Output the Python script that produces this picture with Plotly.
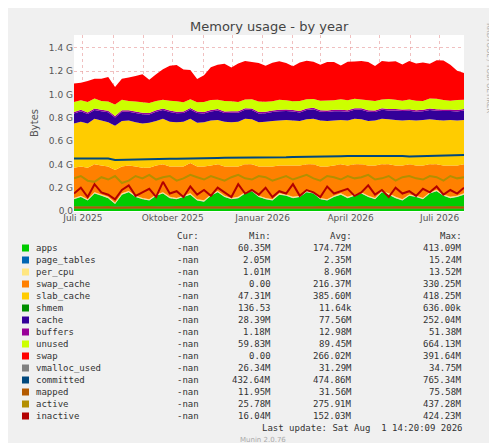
import plotly.graph_objects as go
import pandas as pd

M = 1e6
apps = [100,120,90,150,130,110,60,140,160,120, 100,90,130,150,110,100,120,140,90,80,
        130,160,120,100,110,150,170,120,100,90, 140,130,110,120,160,150,100,90,120,140,
        110,130,150,120,100,160,140,110,90,130, 120,100,150,170,130,110,120,140]
page_tables = [2.3]*58
per_cpu = [9]*58
swap_cache = [260,250,270,240,250,260,280,230,220,250, 260,270,250,240,260,270,250,260,280,290,
              250,230,250,270,260,240,220,250,270,280, 240,250,270,260,230,240,270,280,260,250,
              270,260,240,260,280,230,250,270,290,260, 260,280,240,220,250,270,260,250]
slab_cache = [380,385,380,390,385,380,380,390,385,380, 380,385,380,390,385,380,385,380,375,380,
              385,380,385,380,385,390,385,380,385,390, 385,390,385,380,385,390,395,390,385,380,
              385,390,385,380,385,390,385,390,385,380, 385,390,385,380,385,390,385,380]
shmem = [0.01]*58
cache = [85,90,80,75,80,85,70,80,75,80, 78,72,80,76,82,78,74,80,84,76,
         78,80,74,82,76,78,80,76,72,78, 80,76,78,74,80,82,76,78,80,74,
         76,78,82,80,74,78,76,80,82,78, 76,74,80,78,82,76,78,80]
buffers = [13]*58
unused = [85,80,90,85,75,80,100,90,80,85, 90,85,80,75,85,90,80,75,80,85,
          85,80,90,85,80,75,80,90,85,80, 85,80,75,85,80,75,80,85,80,90,
          85,80,75,85,80,75,85,80,75,85, 80,75,85,90,80,75,85,80]
swap = [160,150,180,170,190,210,150,180,200,220, 240,200,230,260,300,310,280,250,200,230,
        280,300,320,290,330,330,320,330,310,330, 330,320,300,330,330,320,310,330,330,290,
        330,320,330,330,300,330,320,330,310,330, 320,330,300,330,340,310,250,230]
vmalloc_used = [31]*58
committed = [450,450,452,452,452,450,438,440,440,442, 442,444,444,446,448,448,448,450,450,452,
             452,454,456,456,456,458,458,460,460,462, 462,462,464,464,466,466,468,468,470,470,
             472,472,474,474,476,476,478,478,472,468, 470,472,474,476,476,478,478,480]
mapped = [30,32,30,31,29,33,28,30,32,31, 30,32,31,29,30,32,31,30,33,31, 30,29,31,32,30,31,33,30,29,31,
          30,32,31,30,29,31,32,30,31,33, 30,31,32,30,29,31,30,32,31,30, 29,31,32,30,31,33,30,31]
active = [280,300,260,250,290,270,300,240,260,300, 280,310,270,290,300,260,280,310,290,270,
          300,280,260,290,310,280,270,300,290,260, 280,300,270,290,310,280,260,300,290,270,
          300,280,290,310,270,280,300,260,290,300, 280,270,300,290,260,300,280,290]
inactive = [150,200,120,230,160,140,100,180,220,130, 160,190,120,250,150,170,120,210,140,180,
            130,200,160,120,230,150,180,140,200,120, 170,150,230,130,180,160,120,210,150,170,
            190,130,160,220,140,180,120,200,150,170, 130,190,160,210,140,180,150,200]

dates = pd.date_range("2025-06-22", periods=58, freq="7D")

stack = [("apps", apps, "#00CC00"), ("page_tables", page_tables, "#0066B3"),
         ("per_cpu", per_cpu, "#FFE680"), ("swap_cache", swap_cache, "#FF8000"),
         ("slab_cache", slab_cache, "#FFCC00"), ("shmem", shmem, "#008F00"),
         ("cache", cache, "#330099"), ("buffers", buffers, "#990099"),
         ("unused", unused, "#CCFF00"), ("swap", swap, "#FF0000")]
lines = [("vmalloc_used", vmalloc_used, "#808080"), ("committed", committed, "#00487D"),
         ("mapped", mapped, "#B35A00"), ("active", active, "#B38F00"),
         ("inactive", inactive, "#B30000")]

fig = go.Figure()
for name, vals, col in stack:
    fig.add_trace(go.Scatter(x=dates, y=[v*M for v in vals], name=name, stackgroup="s",
                             mode="none", fillcolor=col, line=dict(width=0)))
for name, vals, col in lines:
    fig.add_trace(go.Scatter(x=dates, y=[v*M for v in vals], name=name, mode="lines",
                             line=dict(color=col, width=2)))

months = pd.date_range("2025-07-01", "2026-08-01", freq="MS")
labels = {"2025-07": "Juli 2025", "2025-10": "Oktober 2025", "2026-01": "Januar 2026",
          "2026-04": "April 2026", "2026-07": "Juli 2026"}
ticktext = [labels.get(m.strftime("%Y-%m"), "") for m in months]

fig.update_layout(
    width=497, height=443, margin=dict(l=66, r=41, t=27, b=240, autoexpand=False),
    paper_bgcolor="#F0F0F0", plot_bgcolor="white", showlegend=False,
    font=dict(family="DejaVu Sans", size=9, color="#555"),
    xaxis=dict(range=[dates[0], dates[-1]], tickvals=months, ticktext=ticktext,
               showgrid=True, gridcolor="rgba(230,150,150,0.6)", griddash="dot",
               ticks="", showline=False, automargin=False),
    yaxis=dict(range=[0, 1.51e9], tickvals=[i*0.2e9 for i in range(8)],
               ticktext=["0.0","0.2 G","0.4 G","0.6 G","0.8 G","1.0 G","1.2 G","1.4 G"],
               showgrid=True, gridcolor="rgba(230,150,150,0.6)", griddash="dot",
               ticks="", showline=False, automargin=False,
               title=dict(text="Bytes", font=dict(size=10), standoff=8)),
)

def px(x): return (x-66)/390
def py(y): return (203-y)/176
ann = []
ann.append(dict(x=0.5, y=py(18), text="Memory usage - by year", font=dict(size=13, color="#444")))
ann.append(dict(x=px(487), y=py(60), text="RRDTOOL / TOBI OETIKER", textangle=90,
                font=dict(size=7, color="#aaa")))
mono = dict(family="DejaVu Sans Mono", size=9, color="#333")
hdr = [("Cur:", 193), ("Min:", 265), ("Avg:", 346), ("Max:", 456)]
for t, xr in hdr:
    ann.append(dict(x=px(xr), y=py(228), text=t, xanchor="right", font=mono))
stats = [("-nan","60.35M","174.72M","413.09M"),("-nan","2.05M","2.35M","15.24M"),
         ("-nan","1.01M","8.96M","13.52M"),("-nan","0.00","216.37M","330.25M"),
         ("-nan","47.31M","385.60M","418.25M"),("-nan","136.53","11.64k","636.00k"),
         ("-nan","28.39M","77.56M","252.04M"),("-nan","1.18M","12.98M","51.38M"),
         ("-nan","59.83M","89.45M","664.13M"),("-nan","0.00","266.02M","391.64M"),
         ("-nan","26.34M","31.29M","34.75M"),("-nan","432.64M","474.86M","765.34M"),
         ("-nan","11.95M","31.56M","75.58M"),("-nan","25.78M","275.91M","437.28M"),
         ("-nan","16.04M","152.03M","424.23M")]
allser = stack + lines
for i, ((name, _, col), row) in enumerate(zip(allser, stats)):
    y = 240 + 12*i
    ann.append(dict(x=px(26), y=py(y), text=name, xanchor="left", font=mono))
    for val, (_, xr) in zip(row, hdr):
        ann.append(dict(x=px(xr), y=py(y), text=val, xanchor="right", font=mono))
    fig.add_shape(type="rect", xref="paper", yref="paper", x0=px(14), x1=px(21),
                  y0=py(y+3.5), y1=py(y-3.5), fillcolor=col, line=dict(width=0))
ann.append(dict(x=px(456), y=py(420), text="Last update: Sat Aug  1 14:20:09 2026",
                xanchor="right", font=mono))
ann.append(dict(x=px(255), y=py(432), text="Munin 2.0.76", font=dict(size=7, color="#aaa")))
for a in ann:
    a.setdefault("xref", "paper"); a.setdefault("yref", "paper"); a["showarrow"] = False
    a["yanchor"] = "middle"
fig.update_layout(annotations=ann)
fig.write_html("out.html")
